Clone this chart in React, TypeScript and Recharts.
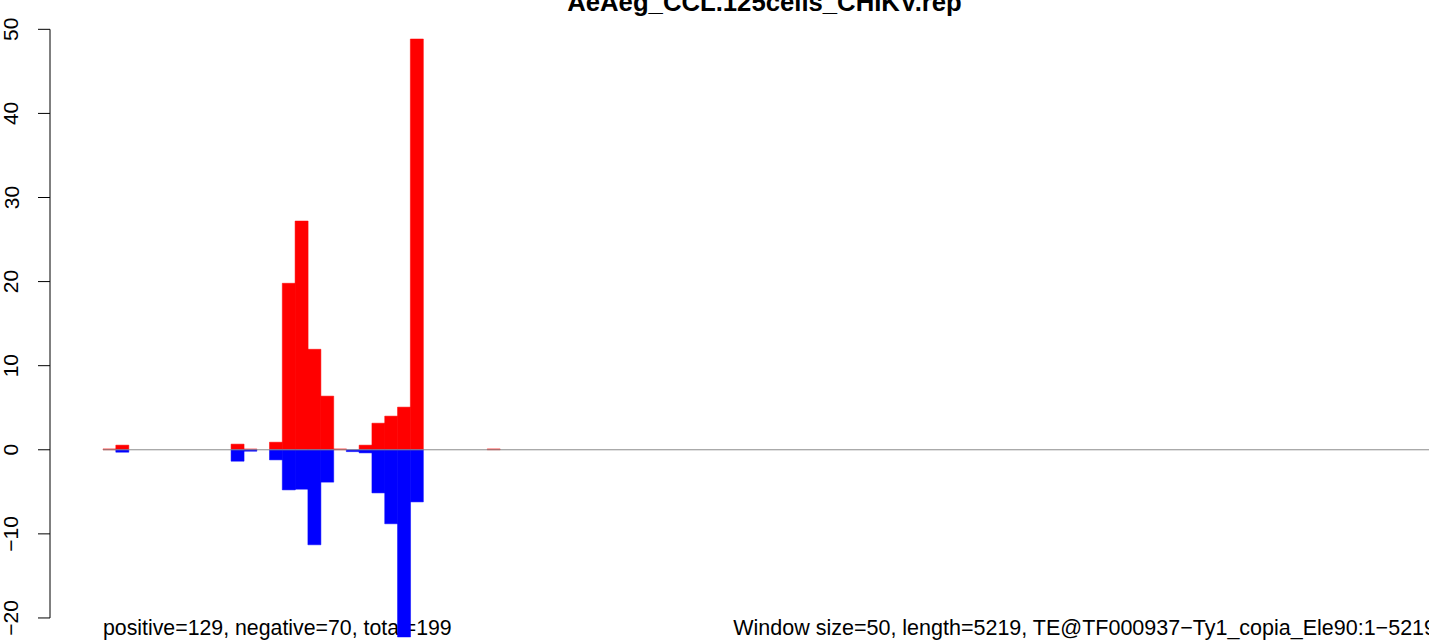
import { BarChart, Bar, XAxis, YAxis, ReferenceLine } from "recharts";

// window start (bp) for each 50 bp bin, bins 0..30 (everything after is empty)
const windowStarts = [
  0, 50, 100, 150, 200, 250, 300, 350, 400, 450, 500, 550, 600, 650, 700, 750,
  800, 850, 900, 950, 1000, 1050, 1100, 1150, 1200, 1250, 1300, 1350, 1400, 1450, 1500,
];
const sense = [
  0.1, 0.55, 0, 0, 0, 0, 0, 0, 0, 0, 0.67, 0.1, 0, 0.9, 19.8, 27.2,
  11.95, 6.38, 0.1, 0, 0.55, 3.16, 4.0, 5.07, 48.85, 0, 0, 0, 0, 0, 0.1,
];
const antisense = [
  0, -0.29, 0, 0, 0, 0, 0, 0, 0, 0, -1.36, -0.17, 0, -1.2, -4.77, -4.69,
  -11.3, -3.85, 0, -0.22, -0.37, -5.13, -8.8, -22.26, -6.2, 0, 0, 0, 0, 0, 0,
];
const yTicks = [-20, -10, 0, 10, 20, 30, 40, 50];

const WINDOW = 50;
const LENGTH = 5219;
const title = "AeAeg_CCL.125cells_CHIKV.rep";
const leftNote = "positive=129, negative=70, total=199";
const rightNote = "Window size=50, length=5219, TE@TF000937\u2212Ty1_copia_Ele90:1\u22125219";

const rows = windowStarts.map((s, i) => ({
  mid: s + WINDOW / 2,
  pos: sense[i],
  neg: antisense[i],
}));

const FONT = "'Liberation Sans', Arial, Helvetica, sans-serif";

function YTick(props: any) {
  const { x, y, payload } = props;
  const bx = x - 17.5;
  return (
    <text
      x={bx}
      y={y}
      transform={`rotate(-90, ${bx}, ${y})`}
      textAnchor="middle"
      fontSize={21}
      fontFamily={FONT}
      fill="#000"
    >
      {String(payload.value).replace("-", "\u2212")}
    </text>
  );
}

export default function App() {
  return (
    <div
      style={{
        position: "fixed",
        left: 0,
        top: 0,
        width: 1429,
        height: 643,
        overflow: "hidden",
        background: "#fff",
      }}
    >
      <svg
        width={1429}
        height={643}
        style={{ position: "absolute", left: 0, top: 0 }}
        fontFamily={FONT}
      >
        <text x={764.5} y={10.5} textAnchor="middle" fontSize={25.7} fontWeight="bold" fill="#000">
          {title}
        </text>
        <text x={103} y={635} fontSize={21.3} fill="#000">
          {leftNote}
        </text>
        <text x={1436} y={635} textAnchor="end" fontSize={21.5} fill="#000">
          {rightNote}
        </text>
      </svg>
      <div style={{ position: "absolute", left: 0, top: 0 }}>
        <BarChart
          width={1486}
          height={660}
          data={rows}
          stackOffset="sign"
          barCategoryGap={0}
          barGap={0}
          margin={{ top: 12.5, right: 0, bottom: 0, left: 0 }}
        >
          <XAxis type="number" dataKey="mid" domain={[-207, 5400]} hide />
          <YAxis
            type="number"
            domain={[-25, 52]}
            ticks={yTicks}
            interval={0}
            width={50}
            axisLine={false}
            tickSize={12}
            tickLine={{ stroke: "#000" }}
            tick={<YTick />}
          />
          <ReferenceLine
            segment={[{ x: 0, y: 0 }, { x: LENGTH, y: 0 }]}
            stroke="#8c8c8c"
            ifOverflow="visible"
          />
          <ReferenceLine
            segment={[{ x: -207, y: -20 }, { x: -207, y: 50 }]}
            stroke="#000"
            ifOverflow="visible"
          />
          <Bar
            dataKey="pos"
            stackId="s"
            fill="#ff0000"
            stroke="#ff0000"
            strokeWidth={0.5}
            isAnimationActive={false}
          />
          <Bar
            dataKey="neg"
            stackId="s"
            fill="#0000ff"
            stroke="#0000ff"
            strokeWidth={0.5}
            isAnimationActive={false}
          />
        </BarChart>
      </div>
    </div>
  );
}
